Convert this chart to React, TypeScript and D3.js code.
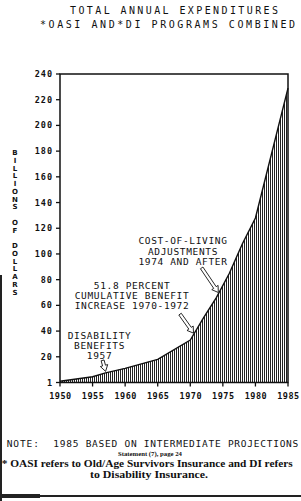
import * as d3 from 'd3';

// Expenditures, billions of dollars
const years = [1950, 1955, 1957, 1960, 1965, 1970, 1972, 1974, 1976, 1978, 1980, 1985];
const spending = [1, 4.5, 7.5, 11, 18, 33, 50, 66, 85, 108, 128, 229];

const xTicks = [1950, 1955, 1960, 1965, 1970, 1975, 1980, 1985];
const yTicks = [0, 20, 40, 60, 80, 100, 120, 140, 160, 180, 200, 220, 240];
const yTickLabels = ['1', '20', '40', '60', '80', '100', '120', '140', '160', '180', '200', '220', '240'];

const titleLines = ['TOTAL ANNUAL EXPENDITURES', '*OASI AND*DI PROGRAMS COMBINED'];
const yLabel = 'BILLIONS OF DOLLARS';

const annotationYears = [1957, 1970.5, 1974.3];
const annotationLines = [
  ['DISABILITY', 'BENEFITS', '1957'],
  ['51.8 PERCENT', 'CUMULATIVE BENEFIT', 'INCREASE 1970-1972'],
  ['COST-OF-LIVING', 'ADJUSTMENTS', '1974 AND AFTER'],
];

const W = 301;
const H = 501;
const left = 60;
const right = 288;
const top = 74;
const bottom = 382.5;
const mono = '"DejaVu Sans Mono", monospace';

// text offset from arrow tip, arrow tail offset from tip
const annoLayout = [
  { tx: -6, ty: -32.5, ax: -3, ay: -11 },
  { tx: -61.5, ty: -44.5, ax: -13.5, ay: -19 },
  { tx: -35.3, ty: -48, ax: -16.6, ay: -24.6 },
];

function arrowPath(sx: number, sy: number, tx: number, ty: number) {
  const dx = tx - sx;
  const dy = ty - sy;
  const len = Math.hypot(dx, dy);
  const ux = dx / len;
  const uy = dy / len;
  const nx = -uy;
  const ny = ux;
  const w = 1.5;
  const hw = 3.8;
  const h = 6;
  const kx = tx - ux * h;
  const ky = ty - uy * h;
  const pts = [
    [sx + nx * w, sy + ny * w],
    [kx + nx * w, ky + ny * w],
    [kx + nx * hw, ky + ny * hw],
    [tx, ty],
    [kx - nx * hw, ky - ny * hw],
    [kx - nx * w, ky - ny * w],
    [sx - nx * w, sy - ny * w],
  ];
  return 'M' + pts.map(p => p[0].toFixed(2) + ',' + p[1].toFixed(2)).join('L') + 'Z';
}

export default function App() {
  const x = d3.scaleLinear().domain([1950, 1985]).range([left, right]);
  const y = d3.scaleLinear().domain([0, 240]).range([bottom, top]);
  const interp = d3.scaleLinear().domain(years).range(spending);

  const pts = years.map((yr, i) => [yr, spending[i]] as [number, number]);
  const area = d3.area<[number, number]>()
    .x(d => x(d[0]))
    .y0(bottom)
    .y1(d => y(d[1]));
  const line = d3.line<[number, number]>()
    .x(d => x(d[0]))
    .y(d => y(d[1]));

  return (
    <svg width={W} height={H} style={{ position: 'absolute', left: 0, top: 0, background: '#fff' }}>
      <defs>
        <pattern id="hatch" width="2" height="4" patternUnits="userSpaceOnUse">
          <rect x="0" y="0" width="2" height="4" fill="#fff" />
          <rect x="0" y="0" width="1" height="4" fill="#222" />
        </pattern>
      </defs>

      {titleLines.map((t, i) => (
        <text key={t} x={[174, 167.5][i]} y={[14, 28.3][i]} textAnchor="middle"
          fontFamily={mono} fontSize={10} textLength={[208, 255][i]} lengthAdjust="spacing" fill="#111">
          {t}
        </text>
      ))}

      {yLabel.split('').map((c, i) => (
        <text key={i} x={15} y={155 + i * 7.75} textAnchor="middle" fontFamily="DejaVu Sans, sans-serif"
          fontWeight="bold" fontSize={7} fill="#111">
          {c}
        </text>
      ))}

      <path d={area(pts) ?? ''} fill="url(#hatch)" />
      <path d={line(pts) ?? ''} fill="none" stroke="#111" strokeWidth={1.4} />

      {/* frame */}
      <path d={`M${left},${bottom}V${top}H${right}V${bottom}H${left}`} fill="none" stroke="#111" strokeWidth={1.5} />

      {yTicks.map((v, i) => (
        <g key={v}>
          <line x1={left - 4} x2={left} y1={y(v)} y2={y(v)} stroke="#111" strokeWidth={1.3} />
          <text x={53} y={y(v) + 3} textAnchor="end" fontFamily={mono} fontWeight="bold"
            fontSize={8.5} letterSpacing={1} fill="#111">
            {yTickLabels[i]}
          </text>
        </g>
      ))}

      {xTicks.map(v => (
        <g key={v}>
          <line x1={x(v)} x2={x(v)} y1={bottom} y2={bottom + 4} stroke="#111" strokeWidth={1.3} />
          <text x={x(v) + 0.5} y={398.5} textAnchor="middle" fontFamily={mono} fontWeight="bold"
            fontSize={8.5} letterSpacing={0.5} fill="#111">
            {v}
          </text>
        </g>
      ))}

      {annotationYears.map((yr, i) => {
        const tipX = x(yr);
        const tipY = y(interp(yr)) - 1.5;
        const L = annoLayout[i];
        return (
          <g key={yr}>
            <path d={arrowPath(tipX + L.ax, tipY + L.ay, tipX, tipY)} fill="#fff" stroke="#111" strokeWidth={0.9} />
            {annotationLines[i].map((t, j) => (
              <text key={t} x={tipX + L.tx} y={tipY + L.ty + j * 10.2} textAnchor="middle"
                fontFamily={mono} fontSize={9.5} letterSpacing={0.65} fill="#111">
                {t}
              </text>
            ))}
          </g>
        );
      })}

      <text x={6.7} y={447} fontFamily={mono} fontSize={9.5} letterSpacing={0.9} fill="#111">NOTE:</text>
      <text x={53.3} y={447} fontFamily={mono} fontSize={9.5} textLength={245} lengthAdjust="spacing" fill="#111">
        1985 BASED ON INTERMEDIATE PROJECTIONS
      </text>
      <text x={150} y={456} textAnchor="middle" fontFamily='"Liberation Serif", serif' fontWeight="bold"
        fontSize={5.5} textLength={64} lengthAdjust="spacingAndGlyphs" fill="#111">
        Statement (7), page 24
      </text>
      <text x={1.7} y={467} fontFamily='"Liberation Serif", serif' fontWeight="bold" fontSize={10}
        textLength={291} lengthAdjust="spacingAndGlyphs" fill="#111">
        * OASI refers to Old/Age Survivors Insurance and DI refers
      </text>
      <text x={149} y={477.5} textAnchor="middle" fontFamily='"Liberation Serif", serif' fontWeight="bold"
        fontSize={10} textLength={118} lengthAdjust="spacingAndGlyphs" fill="#111">
        to Disability Insurance.
      </text>

      {/* scan edges */}
      <rect x={0} y={275} width={2} height={H - 275} fill="#222" />
      <rect x={0} y={495} width={W} height={2} fill="#222" />
      <rect x={0} y={494} width={40} height={4} fill="#222" />
    </svg>
  );
}
